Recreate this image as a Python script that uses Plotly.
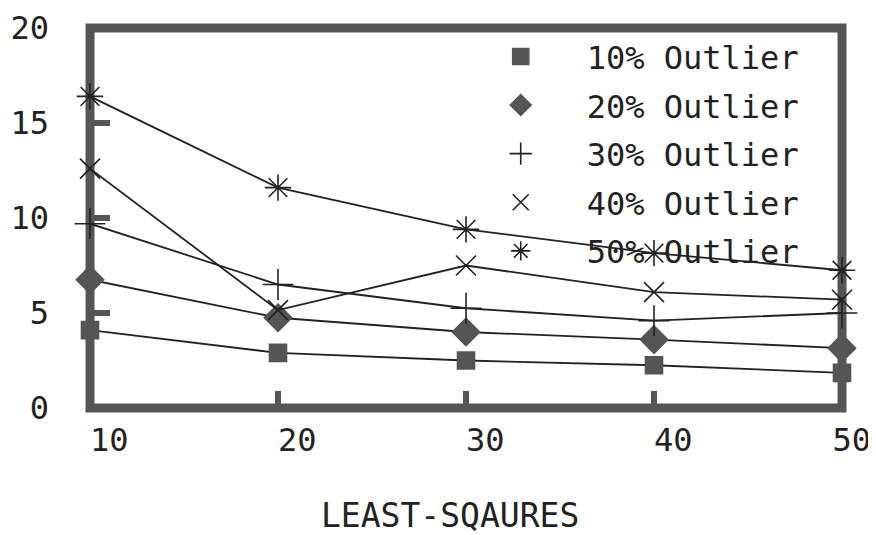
import plotly.graph_objects as go

x_vals = [10, 20, 30, 40, 50]
series_names = ["10% Outlier", "20% Outlier", "30% Outlier", "40% Outlier", "50% Outlier"]
out10 = [4.1, 2.9, 2.5, 2.25, 1.85]
out20 = [6.75, 4.75, 4.0, 3.6, 3.15]
out30 = [9.7, 6.5, 5.25, 4.6, 5.0]
out40 = [12.6, 5.15, 7.5, 6.1, 5.7]
out50 = [16.4, 11.6, 9.4, 8.15, 7.25]
series_values = [out10, out20, out30, out40, out50]
x_ticks = [10, 20, 30, 40, 50]
x_tick_text = ["\u00a0\u00a010", "\u00a0\u00a020", "\u00a0\u00a030", "\u00a0\u00a040", "\u00a050"]
y_ticks = [0, 5, 10, 15, 20]
y_tick_text = ["0", "5", "10", "15", "20"]
x_title = "LEAST-SQAURES"

FONT = "DejaVu Sans Mono"
GREY = "#555555"
LINE = "#222222"

symbols = ["square", "diamond", "cross-thin-open", "x-thin-open", "asterisk-open"]
sizes = [17, 21, 22, 20, 22]

fig = go.Figure()
for i, (name, vals) in enumerate(zip(series_names, series_values)):
    sym = symbols[i]
    open_sym = sym.endswith("open")
    marker = dict(symbol=sym, size=sizes[i],
                  color=GREY if not open_sym else LINE,
                  line=dict(color=LINE if open_sym else GREY, width=1.6))
    fig.add_trace(go.Scatter(
        x=x_vals, y=vals, mode="lines+markers", name=name,
        line=dict(color=LINE, width=1.8), marker=marker,
        showlegend=False, cliponaxis=False))
    # legend entry showing only the symbol
    fig.add_trace(go.Scatter(
        x=[None], y=[None], mode="markers", name=name,
        marker=marker, legendgroup=name, showlegend=True))

# frame
fig.add_shape(type="rect", xref="paper", yref="paper", x0=0, x1=1, y0=0, y1=1,
              line=dict(color=GREY, width=9), layer="below")

# x-axis title
fig.add_annotation(text=x_title, xref="paper", yref="paper", x=0.479, y=-0.284,
                   xanchor="center", yanchor="middle", showarrow=False,
                   font=dict(family=FONT, size=33, color="#222222"))

# page body has an 8px margin, so the figure is sized to end at the window edge
fig.update_layout(
    width=868, height=527,
    margin=dict(l=82, r=34, t=20, b=127),
    paper_bgcolor="white", plot_bgcolor="white",
    font=dict(family=FONT, color="#222222", size=30),
    showlegend=True,
    legend=dict(x=0.485, y=0.997, xanchor="left", yanchor="top",
                bgcolor="rgba(0,0,0,0)", font=dict(family=FONT, size=32, color="#222222"),
                tracegroupgap=4, itemwidth=122),
    xaxis=dict(range=[10, 50], tickvals=x_ticks, ticktext=x_tick_text,
               ticks="inside", ticklen=17, tickwidth=6, tickcolor=GREY,
               showgrid=False, zeroline=False, showline=False, layer="below traces",
               automargin=False, ticklabelstandoff=10, ticklabeloverflow="allow",
               tickfont=dict(family=FONT, size=32, color="#222222")),
    yaxis=dict(range=[0, 20], tickvals=y_ticks, ticktext=y_tick_text,
               ticks="inside", ticklen=20, tickwidth=6, tickcolor=GREY,
               showgrid=False, zeroline=False, showline=False, layer="below traces",
               automargin=False, ticklabelstandoff=40,
               ticklabeloverflow="allow",
               tickfont=dict(family=FONT, size=32, color="#222222")),
)

fig.write_html("out.html")
